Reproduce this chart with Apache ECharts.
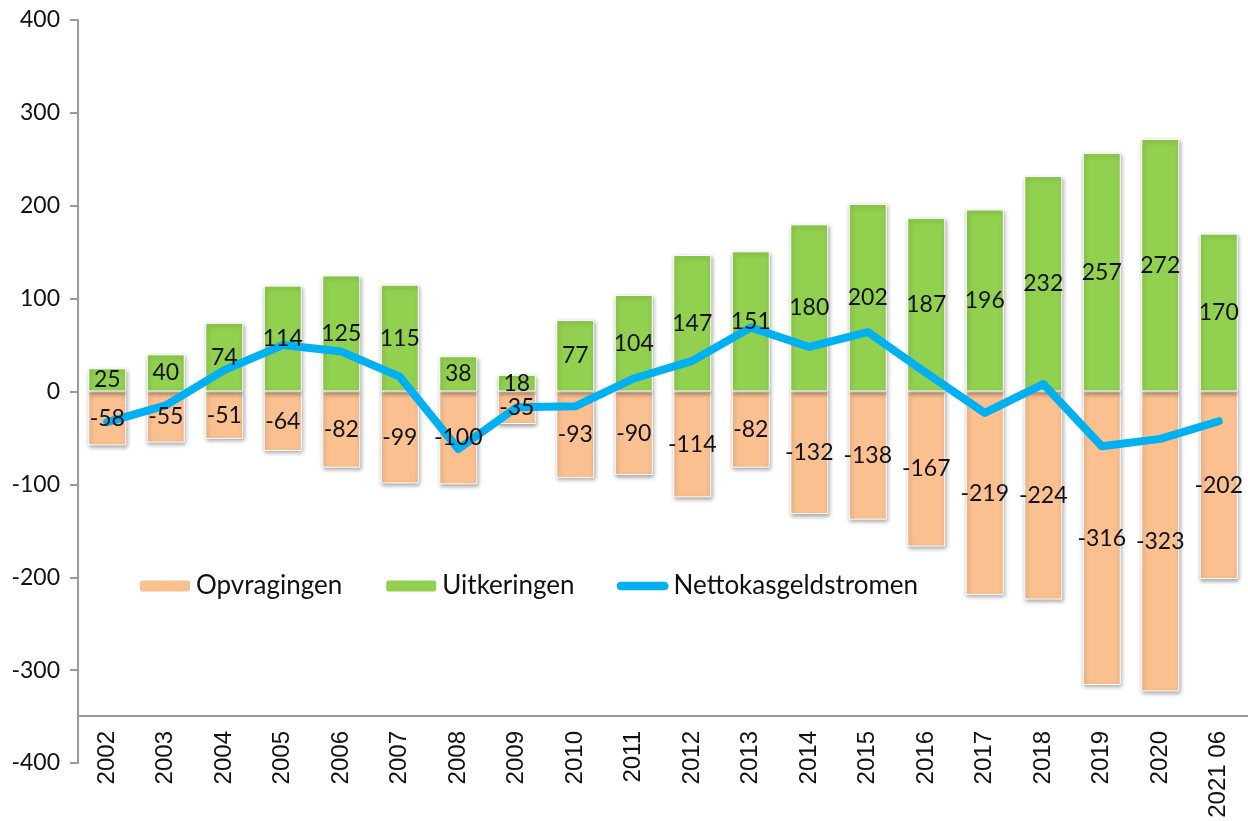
<!DOCTYPE html>
<html lang="nl">
<head>
    <meta charset="UTF-8">
    <title>Nettokasgeldstromen</title>
    <script src="https://cdn.jsdelivr.net/npm/echarts@6/dist/echarts.min.js"></script>
    <style>
        html, body { margin: 0; padding: 0; background: #fff; }
        #main { width: 1248px; height: 821px; }
    </style>
</head>
<body>
<div id="main"></div>
<script>
    // gegevens (miljoen)
    var jaren = ['2002', '2003', '2004', '2005', '2006', '2007', '2008', '2009', '2010', '2011',
        '2012', '2013', '2014', '2015', '2016', '2017', '2018', '2019', '2020', '2021 06'];
    var uitkeringen = [25, 40, 74, 114, 125, 115, 38, 18, 77, 104, 147, 151, 180, 202, 187, 196, 232, 257, 272, 170];
    var opvragingen = [-58, -55, -51, -64, -82, -99, -100, -35, -93, -90, -114, -82, -132, -138, -167, -219, -224, -316, -323, -202];
    var netto = [-33, -15, 23, 50, 43, 16, -62, -17, -16, 14, 33, 69, 48, 64, 20, -23, 8, -59, -51, -32];

    var myChart = echarts.init(document.getElementById('main'));

    var barStyle = {
        borderColor: '#ffffff',
        borderWidth: 1,
        shadowBlur: 4,
        shadowOffsetY: 2,
        shadowOffsetX: 1,
        shadowColor: 'rgba(0,0,0,0.35)'
    };
    var labelStyle = {
        show: true,
        position: 'inside',
        color: '#111',
        fontSize: 23,
        fontFamily: 'Lato'
    };

    var option = {
        animation: false,
        backgroundColor: '#fff',
        grid: { left: 78, right: 0, top: 20, bottom: 58 },
        legend: {
            data: [
                { name: 'Opvragingen' },
                { name: 'Uitkeringen' },
                {
                    name: 'Nettokasgeldstromen',
                    icon: 'path://M5,0 H55 A5,5 0 0 1 55,10 H5 A5,5 0 0 1 5,0 Z',
                    itemStyle: { color: '#00B0F0', borderWidth: 0 },
                    lineStyle: { width: 0 }
                }
            ],
            left: 133,
            top: 568,
            itemWidth: 52,
            itemHeight: 13,
            itemGap: 42,
            textStyle: { fontSize: 26, fontFamily: 'Lato', color: '#111' }
        },
        xAxis: {
            type: 'category',
            data: jaren,
            offset: -47,
            axisLine: { onZero: false, lineStyle: { color: '#999', width: 2 } },
            axisTick: { show: false },
            axisLabel: {
                rotate: 90,
                margin: 15,
                fontSize: 24,
                fontFamily: 'Liberation Sans',
                color: '#111'
            }
        },
        yAxis: {
            type: 'value',
            min: -400,
            max: 400,
            interval: 100,
            axisLine: { show: true, lineStyle: { color: '#999', width: 2 } },
            axisTick: { show: true, length: 8, lineStyle: { color: '#999', width: 2 } },
            splitLine: { show: false },
            axisLabel: { fontSize: 23, fontFamily: 'Lato', color: '#111', margin: 18 }
        },
        series: [
            {
                name: 'Opvragingen',
                type: 'bar',
                stack: 'kas',
                barWidth: '65%',
                data: opvragingen,
                itemStyle: Object.assign({ color: '#FAC090' }, barStyle),
                z: 2
            },
            {
                name: 'Uitkeringen',
                type: 'bar',
                stack: 'kas',
                barWidth: '65%',
                data: uitkeringen,
                itemStyle: Object.assign({ color: '#92D050' }, barStyle),
                z: 2
            },
            {
                name: 'Nettokasgeldstromen',
                type: 'line',
                data: netto,
                symbol: 'none',
                lineStyle: { color: '#00B0F0', width: 8, cap: 'round', join: 'round' },
                itemStyle: { color: '#00B0F0' },
                z: 3
            },
            // onzichtbare kopie voor de labels boven de lijn
            {
                name: 'lbl-opv',
                type: 'bar',
                stack: 'lbl',
                barWidth: '65%',
                barGap: '-100%',
                data: opvragingen,
                itemStyle: { color: 'rgba(0,0,0,0)' },
                label: labelStyle,
                silent: true,
                z: 5
            },
            {
                name: 'lbl-uit',
                type: 'bar',
                stack: 'lbl',
                barWidth: '65%',
                data: uitkeringen,
                itemStyle: { color: 'rgba(0,0,0,0)' },
                label: labelStyle,
                silent: true,
                z: 5
            }
        ]
    };

    myChart.setOption(option);
</script>
</body>
</html>
